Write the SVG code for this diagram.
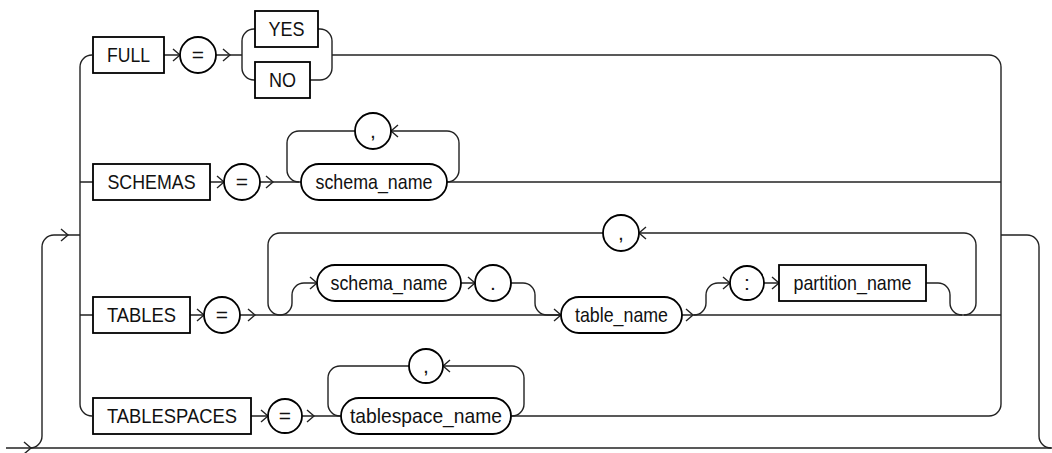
<svg xmlns="http://www.w3.org/2000/svg" xmlns:xlink="http://www.w3.org/1999/xlink" width="1052" height="453" viewBox="0 0 1052 453">
<style>
.ln{fill:none;stroke:#222;stroke-width:1.4}
.bx{fill:#fff;stroke:#000;stroke-width:1.8}
.t{font-family:"Liberation Sans",Arial,sans-serif;font-size:21px;fill:#111;text-anchor:middle}
</style>
<defs>
<path id="ar" d="M-7,-6 L0,0 L-7,6" fill="none" stroke="#222" stroke-width="1.4"/>
<path id="al" d="M7,-6 L0,0 L7,6" fill="none" stroke="#222" stroke-width="1.4"/>
</defs>
<rect width="1052" height="453" fill="#fff"/>
<g id="connectors">
<path class="ln" d="M6,448 H1052"/>
<path class="ln" d="M30,448 A12,12 0 0 0 42,436 V247 A12,12 0 0 1 54,235 H80"/>
<path class="ln" d="M1001,235 H1027 A12,12 0 0 1 1039,247 V436 A12,12 0 0 0 1051,448"/>
<path class="ln" d="M92,55 A12,12 0 0 0 80,67 V404 A12,12 0 0 0 92,416"/>
<path class="ln" d="M80,182 H93 M80,315 H93"/>
<path class="ln" d="M989,55 A12,12 0 0 1 1001,67 V404 A12,12 0 0 1 989,416"/>
<path class="ln" d="M164,55 H180 M216,55 H242"/>
<path class="ln" d="M255,29 H254 A12,12 0 0 0 242,41 V68 A12,12 0 0 0 254,80 H255"/>
<path class="ln" d="M318,29 H320 A12,12 0 0 1 332,41 V68 A12,12 0 0 1 320,80 H310"/>
<path class="ln" d="M332,55 H989"/>
<path class="ln" d="M210,182 H224 M260,182 H301"/>
<path class="ln" d="M299,182 A12,12 0 0 1 287,170 V143 A12,12 0 0 1 299,131 H355"/>
<path class="ln" d="M391,131 H447 A12,12 0 0 1 459,143 V170 A12,12 0 0 1 447,182"/>
<path class="ln" d="M447,182 H1001"/>
<path class="ln" d="M190,315 H204 M240,315 H561"/>
<path class="ln" d="M280,315 A12,12 0 0 1 268,303 V245 A12,12 0 0 1 280,233 H603"/>
<path class="ln" d="M639,233 H964 A12,12 0 0 1 976,245 V303 A12,12 0 0 1 964,315"/>
<path class="ln" d="M280,315 A12,12 0 0 0 292,303 V295 A12,12 0 0 1 304,283 H317"/>
<path class="ln" d="M461,283 H475 M511,283 H523 A12,12 0 0 1 535,295 V303 A12,12 0 0 0 547,315 H561"/>
<path class="ln" d="M682,315 H1001"/>
<path class="ln" d="M694,315 A12,12 0 0 0 706,303 V295 A12,12 0 0 1 718,283 H730 M764,283 H779"/>
<path class="ln" d="M926,283 H938 A12,12 0 0 1 950,295 V303 A12,12 0 0 0 962,315"/>
<path class="ln" d="M251,416 H268 M302,416 H341"/>
<path class="ln" d="M340,416 A12,12 0 0 1 328,404 V378 A12,12 0 0 1 340,366 H409"/>
<path class="ln" d="M443,366 H512 A12,12 0 0 1 524,378 V404 A12,12 0 0 1 512,416"/>
<path class="ln" d="M511,416 H989"/>
<use xlink:href="#ar" x="31" y="448"/>
<use xlink:href="#ar" x="68" y="235"/>
<use xlink:href="#ar" x="180" y="55"/>
<use xlink:href="#ar" x="230" y="55"/>
<use xlink:href="#ar" x="224" y="182"/>
<use xlink:href="#ar" x="273" y="182"/>
<use xlink:href="#ar" x="204" y="315"/>
<use xlink:href="#ar" x="255" y="315"/>
<use xlink:href="#ar" x="317" y="283"/>
<use xlink:href="#ar" x="475" y="283"/>
<use xlink:href="#ar" x="561" y="315"/>
<use xlink:href="#ar" x="693" y="315"/>
<use xlink:href="#ar" x="730" y="283"/>
<use xlink:href="#ar" x="779" y="283"/>
<use xlink:href="#ar" x="268" y="416"/>
<use xlink:href="#ar" x="314" y="416"/>
<use xlink:href="#al" x="391" y="131"/>
<use xlink:href="#al" x="639" y="233"/>
<use xlink:href="#al" x="443" y="366"/>
</g>
<g id="n_full"><rect class="bx" x="93" y="37" width="71" height="36"/><text class="t" x="128.5" y="62" textLength="43" lengthAdjust="spacingAndGlyphs">FULL</text></g>
<g id="n_eq1"><circle class="bx" cx="198" cy="55" r="18"/><text class="t" x="198" y="62">=</text></g>
<g id="n_yes"><rect class="bx" x="255" y="11" width="63" height="36"/><text class="t" x="286.5" y="36" textLength="36" lengthAdjust="spacingAndGlyphs">YES</text></g>
<g id="n_no"><rect class="bx" x="255" y="62" width="55" height="36"/><text class="t" x="282.5" y="87" textLength="27" lengthAdjust="spacingAndGlyphs">NO</text></g>
<g id="n_schemas"><rect class="bx" x="93" y="164" width="117" height="36"/><text class="t" x="151.5" y="189" textLength="88" lengthAdjust="spacingAndGlyphs">SCHEMAS</text></g>
<g id="n_eq2"><circle class="bx" cx="242" cy="182" r="18"/><text class="t" x="242" y="189">=</text></g>
<g id="n_schema_name1"><rect class="bx" x="301" y="164" width="146" height="36" rx="18"/><text class="t" x="374" y="189" textLength="117" lengthAdjust="spacingAndGlyphs">schema_name</text></g>
<g id="n_comma1"><circle class="bx" cx="373" cy="131" r="18"/><text class="t" x="373" y="138">,</text></g>
<g id="n_tables"><rect class="bx" x="93" y="297" width="97" height="36"/><text class="t" x="141.5" y="322" textLength="69" lengthAdjust="spacingAndGlyphs">TABLES</text></g>
<g id="n_eq3"><circle class="bx" cx="222" cy="315" r="18"/><text class="t" x="222" y="322">=</text></g>
<g id="n_comma2"><circle class="bx" cx="621" cy="233" r="18"/><text class="t" x="621" y="240">,</text></g>
<g id="n_schema_name2"><rect class="bx" x="317" y="265" width="144" height="36" rx="18"/><text class="t" x="389" y="290" textLength="117" lengthAdjust="spacingAndGlyphs">schema_name</text></g>
<g id="n_dot"><circle class="bx" cx="493" cy="283" r="18"/><text class="t" x="493" y="290">.</text></g>
<g id="n_table_name"><rect class="bx" x="561" y="297" width="121" height="36" rx="18"/><text class="t" x="621.5" y="322" textLength="93" lengthAdjust="spacingAndGlyphs">table_name</text></g>
<g id="n_colon"><circle class="bx" cx="747" cy="283" r="17"/><text class="t" x="747" y="290">:</text></g>
<g id="n_partition_name"><rect class="bx" x="779" y="265" width="147" height="36"/><text class="t" x="852.5" y="290" textLength="118" lengthAdjust="spacingAndGlyphs">partition_name</text></g>
<g id="n_tablespaces"><rect class="bx" x="93" y="398" width="158" height="36"/><text class="t" x="172" y="423" textLength="130" lengthAdjust="spacingAndGlyphs">TABLESPACES</text></g>
<g id="n_eq4"><circle class="bx" cx="285" cy="416" r="17"/><text class="t" x="285" y="423">=</text></g>
<g id="n_comma3"><circle class="bx" cx="426" cy="366" r="17"/><text class="t" x="426" y="373">,</text></g>
<g id="n_tablespace_name"><rect class="bx" x="341" y="398" width="170" height="36" rx="18"/><text class="t" x="426" y="423" textLength="152" lengthAdjust="spacingAndGlyphs">tablespace_name</text></g>
</svg>
